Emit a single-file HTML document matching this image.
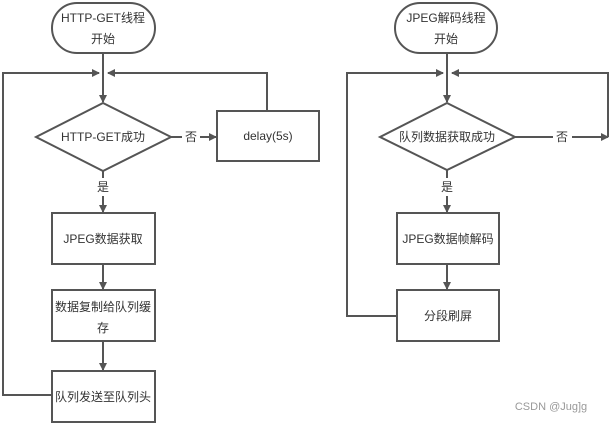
<!DOCTYPE html>
<html><head><meta charset="utf-8"><style>
html,body{margin:0;padding:0;background:#fff;width:612px;height:424px;overflow:hidden}
svg text{font-family:"Liberation Sans","Noto Sans CJK SC",sans-serif;font-size:12px;fill:#333;text-anchor:middle;dominant-baseline:central}
</style></head><body>
<svg width="612" height="424" viewBox="0 0 612 424" xmlns="http://www.w3.org/2000/svg">
<defs><marker id="a" markerWidth="8" markerHeight="8" refX="7" refY="4" orient="auto" markerUnits="userSpaceOnUse"><path d="M0,0 L8,4 L0,8z" fill="#555"/></marker></defs>
<g stroke="#555" stroke-width="2" fill="#fff">
<!-- left -->
<rect x="52" y="3" width="103" height="50" rx="25"/>
<line x1="103" y1="53" x2="103" y2="102" marker-end="url(#a)" fill="none"/>
<polyline points="52,395 3,395 3,73 99,73" fill="none" marker-end="url(#a)"/>
<polyline points="267,111 267,73 108,73" fill="none" marker-end="url(#a)"/>
<polygon points="103,103 171,137 103,171 36,137"/>
<line x1="171" y1="137" x2="182" y2="137"/>
<line x1="200" y1="137" x2="216" y2="137" marker-end="url(#a)"/>
<rect x="217" y="111" width="102" height="50"/>
<line x1="103" y1="171" x2="103" y2="178"/>
<line x1="103" y1="196" x2="103" y2="212" marker-end="url(#a)"/>
<rect x="52" y="213" width="103" height="51"/>
<line x1="103" y1="264" x2="103" y2="289" marker-end="url(#a)"/>
<rect x="52" y="290" width="103" height="51"/>
<line x1="103" y1="341" x2="103" y2="370" marker-end="url(#a)"/>
<rect x="52" y="371" width="103" height="51"/>
<!-- right -->
<rect x="395" y="3" width="102" height="50" rx="25"/>
<line x1="447" y1="53" x2="447" y2="102" marker-end="url(#a)" fill="none"/>
<polyline points="397,316 347,316 347,73 443,73" fill="none" marker-end="url(#a)"/>
<polyline points="515,137 553,137" fill="none"/>
<polyline points="572,137 608,137" fill="none" marker-end="url(#a)"/>
<polyline points="608,137 608,73 452,73" fill="none" marker-end="url(#a)"/>
<polygon points="447,103 515,137 447,170 380,137"/>
<line x1="447" y1="170" x2="447" y2="178"/>
<line x1="447" y1="196" x2="447" y2="212" marker-end="url(#a)"/>
<rect x="397" y="213" width="102" height="51"/>
<line x1="447" y1="264" x2="447" y2="289" marker-end="url(#a)"/>
<rect x="397" y="290" width="102" height="51"/>
</g>
<text x="103" y="18">HTTP-GET线程</text><text x="103" y="39">开始</text>
<text x="103" y="137">HTTP-GET成功</text>
<text x="191" y="137">否</text>
<text x="268" y="136">delay(5s)</text>
<text x="103" y="187">是</text>
<text x="103" y="239">JPEG数据获取</text>
<text x="103" y="307">数据复制给队列缓</text><text x="103" y="328">存</text>
<text x="103" y="397">队列发送至队列头</text>
<text x="446" y="18">JPEG解码线程</text><text x="446" y="39">开始</text>
<text x="447" y="137">队列数据获取成功</text>
<text x="562" y="137">否</text>
<text x="447" y="187">是</text>
<text x="448" y="239">JPEG数据帧解码</text>
<text x="448" y="316">分段刷屏</text>
<text x="551" y="407" style="fill:#999;font-size:11px">CSDN @Jug]g</text>
</svg>
</body></html>
